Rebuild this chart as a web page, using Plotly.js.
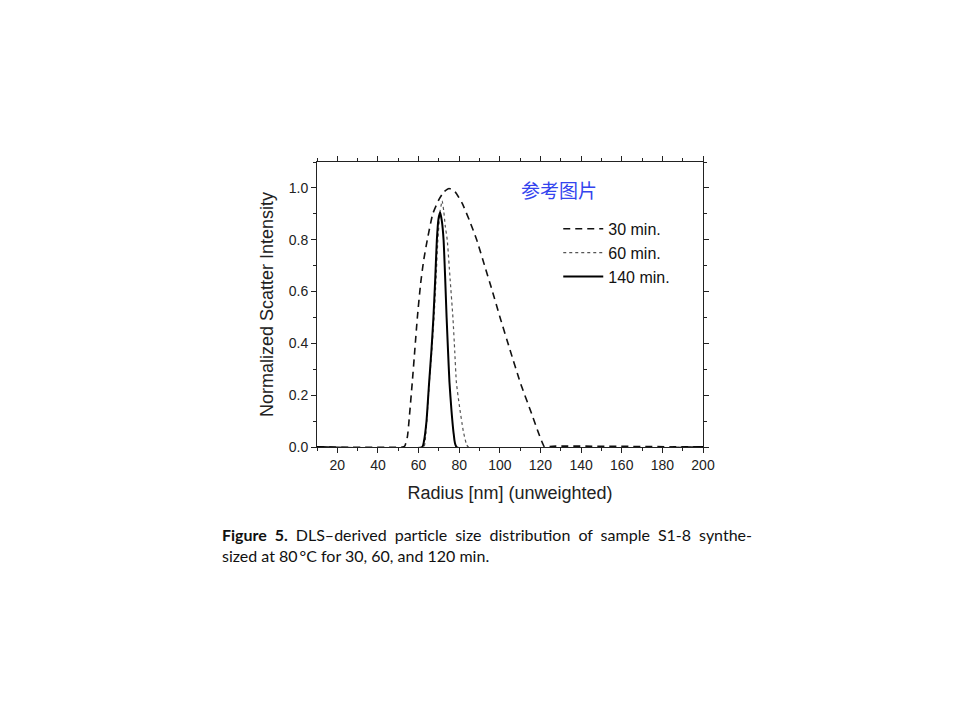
<!DOCTYPE html>
<html>
<head>
<meta charset="utf-8">
<script src="https://cdn.plot.ly/plotly-3.0.1.min.js"></script>
<style>
  body { margin: 0; background: #fff; }
  #wrap { position: relative; width: 960px; height: 720px; }
  #chart { width: 960px; height: 720px; }
  #caption {
    position: absolute; left: 222px; top: 524px; width: 530px;
    font-family: "Lato", "Open Sans", sans-serif; font-size: 16px; line-height: 21px;
    color: #111;
  }
  #caption .l1 { text-align: justify; text-align-last: justify; }
</style>
</head>
<body>
<div id="wrap">
  <div id="chart"></div>
  <div id="caption">
    <div class="l1"><b>Figure 5.</b> DLS&ndash;derived particle size distribution of sample S1-8 synthe-</div>
    <div>sized at 80&#8201;&deg;C for 30, 60, and 120 min.</div>
  </div>
</div>
<script>
// Radius [nm] / normalized intensity
const r30 = [10, 52, 53.2, 54.5, 55.5, 56.9, 58.2, 59.4, 61, 62.5, 64.3, 67, 70, 72.5, 75, 78, 81.5, 85, 88.6, 92.5, 96, 100.1, 105, 110, 115.8, 119, 121, 122, 126, 200];
const i30 = [0, 0, 0.004, 0.04, 0.12, 0.25, 0.38, 0.5, 0.63, 0.72, 0.8, 0.9, 0.955, 0.985, 0.998, 0.985, 0.94, 0.875, 0.8, 0.7, 0.61, 0.5, 0.375, 0.25, 0.125, 0.055, 0.015, 0, 0.003, 0];

const r60 = [10, 62.5, 63.4, 64.3, 65.3, 66.5, 67.6, 68.6, 69.5, 70.6, 71.6, 72.4, 73.1, 74.1, 75.5, 76.9, 77.8, 78.6, 80, 82, 83.6, 84.5, 200];
const i60 = [0, 0, 0.036, 0.13, 0.25, 0.37, 0.5, 0.65, 0.8, 0.91, 0.95, 0.91, 0.855, 0.8, 0.65, 0.5, 0.37, 0.25, 0.164, 0.062, 0.01, 0, 0];

const r140 = [10, 61.8, 62.6, 63.9, 65.2, 66.3, 67.3, 68.2, 69.0, 69.8, 70.6, 71.5, 72.3, 73.1, 73.8, 74.5, 75.2, 76.2, 77.3, 78.7, 200];
const i140 = [0, 0, 0.02, 0.1, 0.25, 0.37, 0.5, 0.65, 0.8, 0.88, 0.906, 0.87, 0.8, 0.65, 0.5, 0.37, 0.25, 0.14, 0.05, 0, 0];

const traces = [
  { x: r30, y: i30, name: '30 min.', mode: 'lines',
    line: { color: '#111', width: 1.6, dash: '7px,5px', shape: 'spline', smoothing: 0.5 } },
  { x: r60, y: i60, name: '60 min.', mode: 'lines',
    line: { color: '#555', width: 1.2, dash: 'dot', shape: 'spline', smoothing: 0.5 } },
  { x: r140, y: i140, name: '140 min.', mode: 'lines',
    line: { color: '#000', width: 2, shape: 'spline', smoothing: 0.5 } }
];

const axisFont = { family: 'Liberation Sans, Arial, sans-serif', size: 14, color: '#222' };
const titleFont = { family: 'Liberation Sans, Arial, sans-serif', size: 18, color: '#222' };

const layout = {
  width: 960, height: 720,
  margin: { l: 317, r: 257, t: 162, b: 273 },
  paper_bgcolor: '#fff', plot_bgcolor: '#fff',
  showlegend: true,
  legend: {
    x: 0.625, y: 0.825, xanchor: 'left', yanchor: 'top',
    font: { family: 'Liberation Sans, Arial, sans-serif', size: 16, color: '#111' },
    itemwidth: 40, tracegroupgap: 0, bgcolor: 'rgba(0,0,0,0)'
  },
  xaxis: {
    range: [10, 200], tick0: 0, dtick: 20,
    ticks: 'outside', ticklen: 5, tickwidth: 1, tickcolor: '#222',
    minor: { dtick: 10, ticks: 'outside', ticklen: 3, tickcolor: '#222' },
    showline: true, linecolor: '#222', linewidth: 1, mirror: 'allticks',
    showgrid: false, zeroline: false,
    tickfont: axisFont,
    title: { text: 'Radius [nm] (unweighted)', font: titleFont, standoff: 14 }
  },
  yaxis: {
    range: [0, 1.1], tick0: 0, dtick: 0.2, tickformat: '.1f',
    ticks: 'outside', ticklen: 5, tickwidth: 1, tickcolor: '#222',
    minor: { dtick: 0.1, ticks: 'outside', ticklen: 3, tickcolor: '#222' },
    showline: true, linecolor: '#222', linewidth: 1, mirror: 'allticks',
    showgrid: false, zeroline: false,
    tickfont: axisFont,
    title: { text: 'Normalized Scatter Intensity', font: titleFont, standoff: 10 }
  },
  annotations: [
    { xref: 'paper', yref: 'paper', x: 0.628, y: 0.905, xanchor: 'center', yanchor: 'middle',
      text: '参考图片', showarrow: false,
      font: { family: 'Noto Sans CJK SC, sans-serif', size: 19, color: '#3344ee' } }
  ]
};

Plotly.newPlot('chart', traces, layout, { displayModeBar: false, staticPlot: true });
</script>
</body>
</html>
